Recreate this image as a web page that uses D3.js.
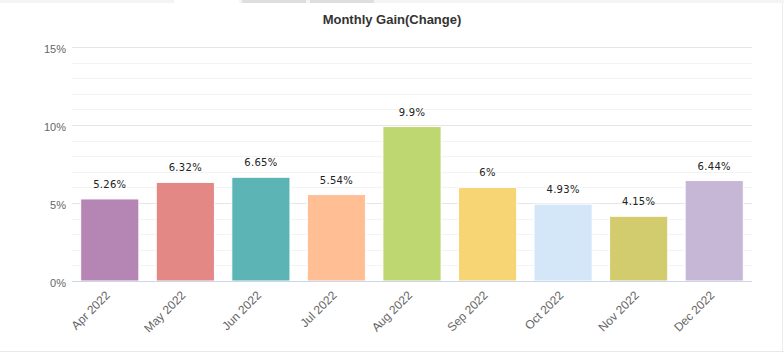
<!DOCTYPE html>
<html><head><meta charset="utf-8">
<script src="https://cdn.jsdelivr.net/npm/d3@7"></script>
<style>body{margin:0;background:#fff;}svg{display:block;}</style>
</head><body>
<svg id="c" width="784" height="356"></svg>
<script>
const categories = ["Apr 2022","May 2022","Jun 2022","Jul 2022","Aug 2022","Sep 2022","Oct 2022","Nov 2022","Dec 2022"];
const values = [5.26, 6.32, 6.65, 5.54, 9.9, 6, 4.93, 4.15, 6.44];
const valueLabels = ["5.26%","6.32%","6.65%","5.54%","9.9%","6%","4.93%","4.15%","6.44%"];
const colors = ["#b586b4","#e38885","#5cb4b5","#ffbe94","#bfd770","#f7d575","#d3e7f9","#d2cc6e","#c7b7d7"];
const yTicks = [0, 5, 10, 15];
const yMinorTicks = [1,2,3,4,6,7,8,9,11,12,13,14];
const title = "Monthly Gain(Change)";

const svg = d3.select("#c");
const L = 72, R = 752, T = 47, B = 281;

// top tab strip
svg.append("rect").attr("x",0).attr("y",0).attr("width",784).attr("height",3).attr("fill","#f4f4f4");
svg.append("rect").attr("x",174).attr("y",0).attr("width",65).attr("height",3).attr("fill","#ffffff");
svg.append("rect").attr("x",242).attr("y",0).attr("width",64).attr("height",3).attr("fill","#dedede");
svg.append("rect").attr("x",310).attr("y",0).attr("width",64).attr("height",3).attr("fill","#dedede");
// frame lines
svg.append("line").attr("x1",0).attr("x2",784).attr("y1",351.5).attr("y2",351.5).attr("stroke","#e8e8e8");
svg.append("line").attr("x1",782.5).attr("x2",782.5).attr("y1",3).attr("y2",352).attr("stroke","#ececec");

const x = d3.scaleBand().domain(categories).range([L, R]).paddingInner(0.23).paddingOuter(0.115);
const y = d3.scaleLinear().domain([0, 15]).range([B, T]);

// minor grid
svg.append("g").selectAll("line").data(yMinorTicks).join("line")
  .attr("x1", L).attr("x2", R)
  .attr("y1", d => Math.round(y(d)) + 0.5).attr("y2", d => Math.round(y(d)) + 0.5)
  .attr("stroke", "#f3f3f3");
// major grid
svg.append("g").selectAll("line").data(yTicks.filter(d => d > 0)).join("line")
  .attr("x1", L).attr("x2", R)
  .attr("y1", d => Math.round(y(d)) + 0.5).attr("y2", d => Math.round(y(d)) + 0.5)
  .attr("stroke", "#e6e6e6");

// y labels
svg.append("g").selectAll("text").data(yTicks).join("text")
  .attr("x", 66).attr("y", d => y(d) + 6)
  .attr("text-anchor", "end")
  .attr("font-family", "Liberation Sans, Arial, sans-serif")
  .attr("font-size", "11px").attr("fill", "#666")
  .text(d => d + "%");

// bars
svg.append("g").selectAll("rect").data(values).join("rect")
  .attr("x", (d, i) => x(categories[i]))
  .attr("y", d => y(d))
  .attr("width", x.bandwidth())
  .attr("height", d => y(0) - y(d))
  .attr("fill", (d, i) => colors[i])
  .attr("stroke", "#ffffff").attr("stroke-width", 1);

// x axis line
svg.append("line").attr("x1", L).attr("x2", R).attr("y1", B + 0.5).attr("y2", B + 0.5).attr("stroke", "#ccd6eb");

// data labels
svg.append("g").selectAll("text").data(values).join("text")
  .attr("x", (d, i) => x(categories[i]) + x.bandwidth() / 2)
  .attr("y", d => y(d) - 11)
  .attr("text-anchor", "middle")
  .attr("font-family", "DejaVu Sans, sans-serif")
  .attr("font-size", "10px").attr("fill", "#222")
  .attr("letter-spacing", "0.3px")
  .text((d, i) => valueLabels[i]);

// x labels
svg.append("g").selectAll("text").data(categories).join("text")
  .attr("transform", d => `translate(${x(d) + x.bandwidth() / 2 + 1},${B + 15}) rotate(-45)`)
  .attr("text-anchor", "end")
  .attr("font-family", "Liberation Sans, Arial, sans-serif")
  .attr("font-size", "12px").attr("fill", "#666")
  .text(d => d);

// title
svg.append("text").attr("x", 392).attr("y", 24)
  .attr("text-anchor", "middle")
  .attr("font-family", "Liberation Sans, Arial, sans-serif")
  .attr("font-size", "13px").attr("font-weight", "bold").attr("fill", "#333")
  .text(title);
</script>
</body></html>
